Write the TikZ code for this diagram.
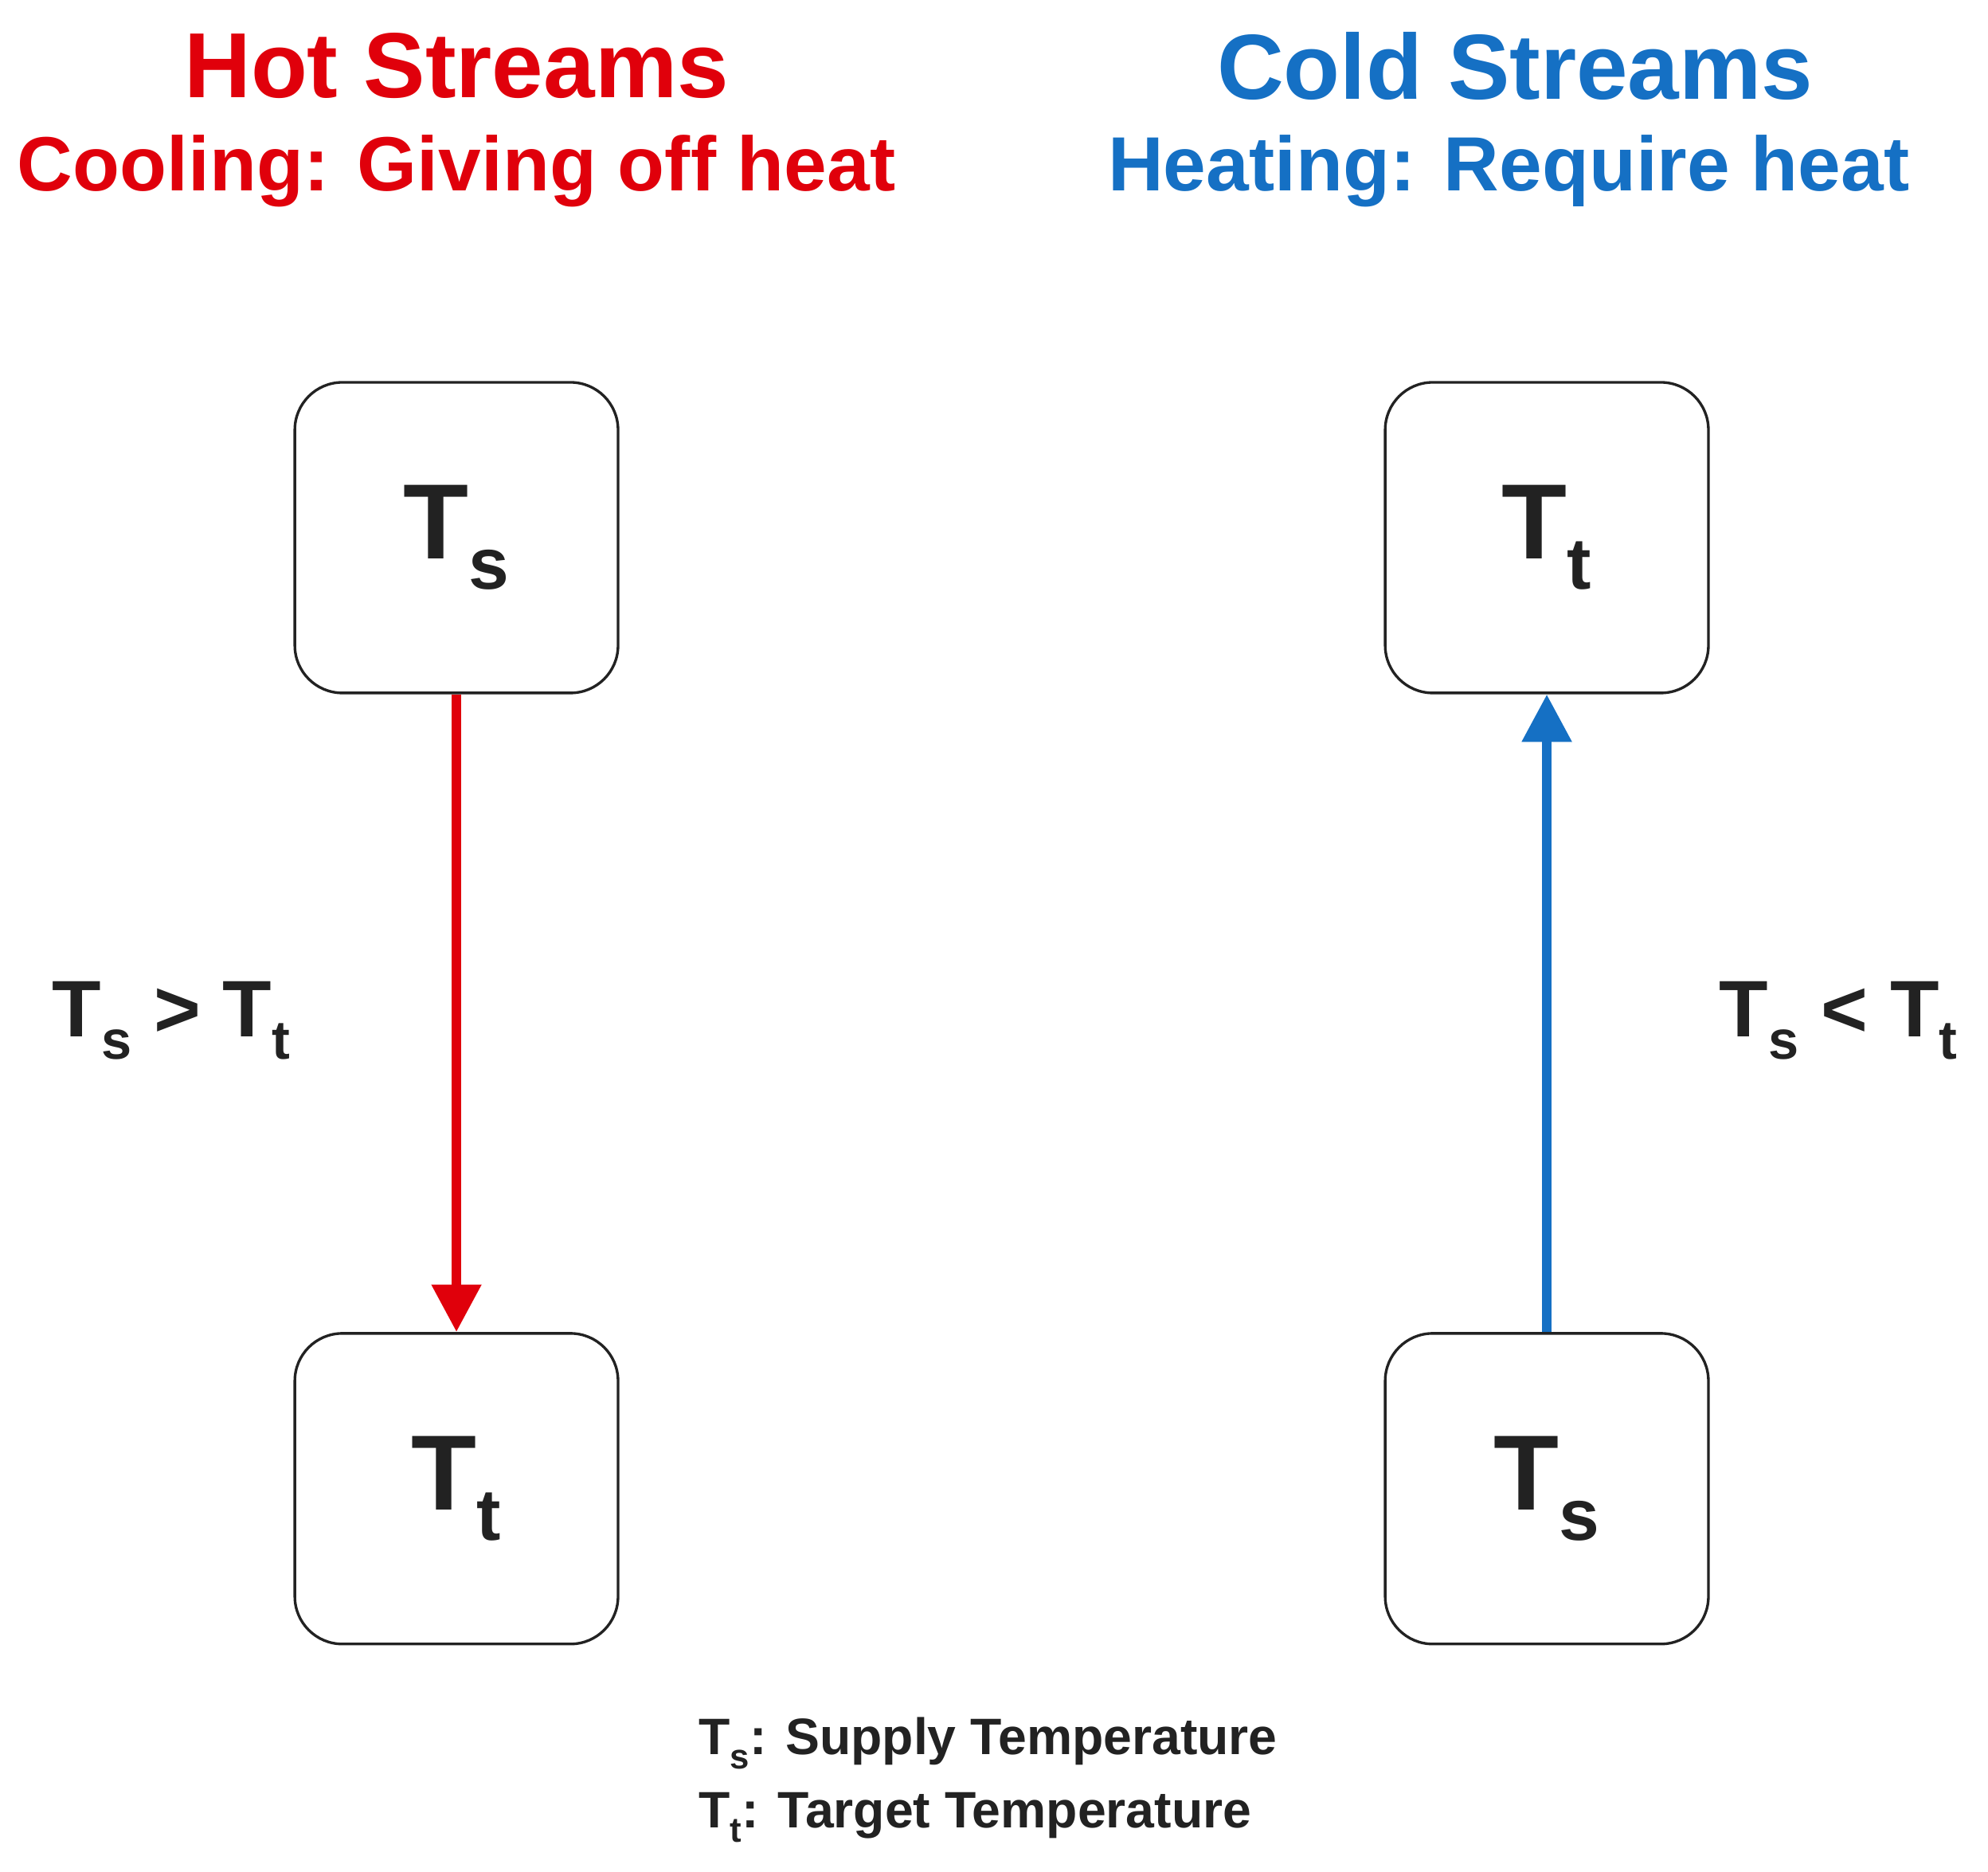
\documentclass[tikz,border=0pt]{standalone}
\usepackage{fontspec}
\setmainfont{Liberation Sans}
\usetikzlibrary{arrows.meta}
\definecolor{hot}{HTML}{E0000B}
\definecolor{cold}{HTML}{1570C4}
\definecolor{ink}{HTML}{222222}
\newcommand{\mysb}[1]{\raisebox{-0.28em}{\scalebox{0.68}{#1}}}
\begin{document}
\begin{tikzpicture}[x=0.02cm,y=-0.02cm,
  box/.style={draw=ink,line width=1.2pt,rounded corners=0.75cm,minimum width=5.1cm,minimum height=4.9cm,text=ink,font=\fontsize{48}{56}\selectfont\bfseries},
  head/.style={font=\fontsize{41.5}{50}\selectfont\bfseries},
  sub/.style={font=\fontsize{34.5}{38}\selectfont\bfseries},
  cond/.style={text=ink,font=\fontsize{36}{42}\selectfont\bfseries},
  leg/.style={text=ink,font=\fontsize{23}{28}\selectfont\bfseries,anchor=west}]
\useasboundingbox (0,0) rectangle (1568,1476);
\node[head,text=hot] (h1) at (360,52) {Hot Streams};
\node[sub,text=hot] (h2) at (360,135) {Cooling: Giving off heat};
\node[head,text=cold] (c1) at (1195,52) {Cold Streams};
\node[sub,text=cold] (c2) at (1190,135) {Heating: Require heat};
\node[box] (lt) at (360,424) {T\mysb{s}};
\node[box] (lb) at (360,1174) {T\mysb{t}};
\node[box] (rt) at (1220,424) {T\mysb{t}};
\node[box] (rb) at (1220,1174) {T\mysb{s}};
\draw[hot,line width=4.5pt,-{Triangle[length=0.75cm,width=0.75cm]}] (lt) -- (lb);
\draw[cold,line width=4.5pt,-{Triangle[length=0.75cm,width=0.75cm]}] (rb) -- (rt);
\node[cond] (cl) at (135,805) {T\mysb{s} > T\mysb{t}};
\node[cond] (cr) at (1450,805) {T\mysb{s} < T\mysb{t}};
\node[leg] (l1) at (545,1375) {T\mysb{s}: Supply Temperature};
\node[leg] (l2) at (545,1433) {T\mysb{t}: Target Temperature};
\end{tikzpicture}
\end{document}
